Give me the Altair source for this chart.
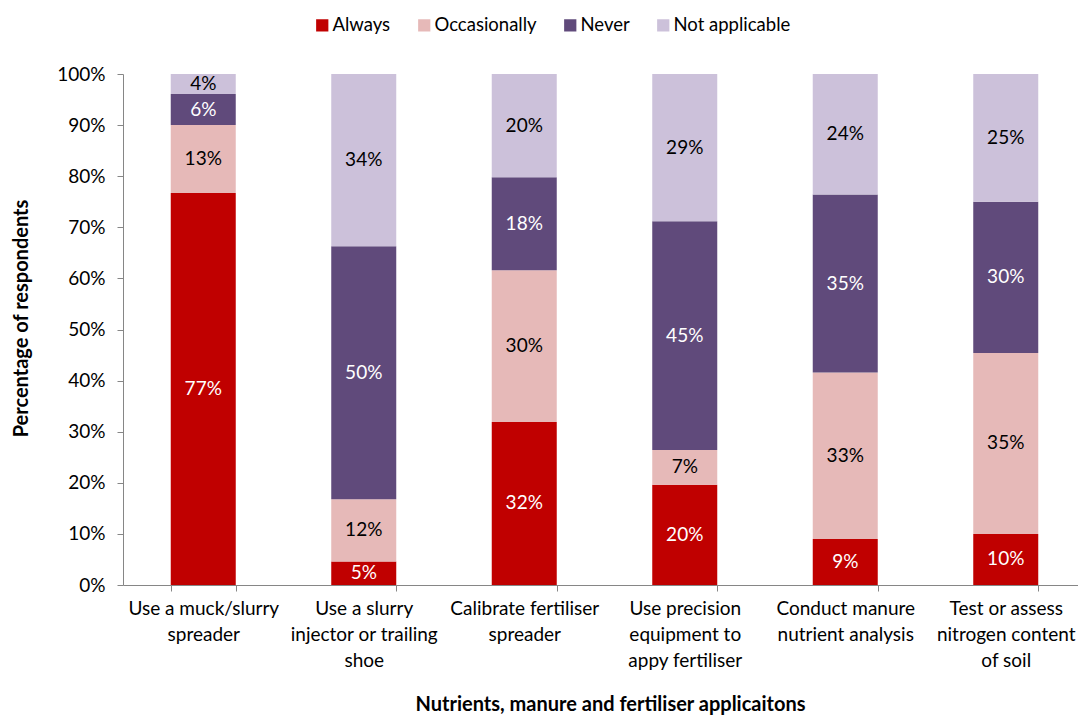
import altair as alt
import pandas as pd

categories = [
    "Use a muck/slurry|spreader",
    "Use a slurry|injector or trailing|shoe",
    "Calibrate fertiliser|spreader",
    "Use precision|equipment to|appy fertiliser",
    "Conduct manure|nutrient analysis",
    "Test or assess|nitrogen content|of soil",
]
series = ["Always", "Occasionally", "Never", "Not applicable"]
colors = ["#C00000", "#E6B9B8", "#604A7B", "#CCC1DA"]
text_colors = ["white", "black", "white", "black"]

always = [76.7, 4.6, 31.9, 19.6, 9.0, 10.0]
occasionally = [13.3, 12.2, 29.7, 6.8, 32.6, 35.4]
never = [6.1, 49.5, 18.2, 44.8, 34.8, 29.6]
not_applicable = [3.9, 33.7, 20.2, 28.8, 23.6, 25.0]

y_ticks = list(range(0, 101, 10))

rows = []
for s_i, (s, vals) in enumerate(zip(series, [always, occasionally, never, not_applicable])):
    for c, v in zip(categories, vals):
        rows.append({"cat": c, "series": s, "value": v, "order": s_i, "tcolor": text_colors[s_i]})
df = pd.DataFrame(rows)

FONT = "Lato"

x_enc = alt.X(
    "cat:N",
    sort=categories,
    scale=alt.Scale(paddingInner=0.595, paddingOuter=0.2975, range=[0, 963]),
    axis=alt.Axis(
        title="Nutrients, manure and fertiliser applicaitons",
        labelAngle=0,
        labelExpr="split(datum.label, '|')",
        labelFontSize=19,
        labelLineHeight=26,
        labelPadding=8,
        labelColor="black",
        labelFont=FONT,
        tickBand="extent",
        tickSize=6,
        tickColor="#868686",
        domainColor="#868686",
        titleFont=FONT,
        titleFontSize=20,
        titleFontWeight="bold",
        titleColor="black",
        titleX=487,
        titleY=109,
    ),
)

bars = alt.Chart(df).mark_bar().encode(
    x=x_enc,
    y=alt.Y(
        "value:Q",
        stack="zero",
        scale=alt.Scale(domain=[0, 100], nice=False),
        axis=alt.Axis(
            title="Percentage of respondents",
            values=y_ticks,
            labelExpr="datum.value + '%'",
            labelFontSize=19,
            labelFont=FONT,
            labelColor="black",
            labelPadding=12,
            grid=False,
            tickSize=6,
            tickColor="#868686",
            domainColor="#868686",
            titleFont=FONT,
            titleFontSize=20,
            titleFontWeight="bold",
            titleColor="black",
            titleX=-92,
            titleY=244,
        ),
    ),
    color=alt.Color(
        "series:N",
        scale=alt.Scale(domain=series, range=colors),
        legend=alt.Legend(
            title=None,
            orient="none",
            direction="horizontal",
            legendX=190,
            legendY=-58,
            symbolType="square",
            symbolSize=150,
            symbolStrokeWidth=0,
            labelFontSize=18.5,
            labelFont=FONT,
            labelColor="black",
            columnPadding=24,
            labelOffset=1,
        ),
    ),
    order=alt.Order("order:Q"),
)

labels = alt.Chart(df).transform_window(
    cum="sum(value)",
    sort=[alt.SortField("order")],
    groupby=["cat"],
    frame=[None, 0],
).transform_calculate(
    mid="datum.cum - datum.value / 2",
    label="round(datum.value) + '%'",
).mark_text(fontSize=19, font=FONT, baseline="middle").encode(
    x=alt.X("cat:N", sort=categories),
    y=alt.Y("mid:Q"),
    text="label:N",
    color=alt.Color("tcolor:N", scale=None),
)

chart = (
    alt.layer(bars, labels)
    .resolve_scale(color="independent")
    .properties(
        width=955,
        height=511,
        autosize=alt.AutoSizeParams(type="none"),
        padding={"left": 115, "top": 66, "right": 0, "bottom": 131},
    )
    .configure_view(stroke=None)
)

chart.save("out.html", embed_options={"renderer": "svg", "actions": False})
